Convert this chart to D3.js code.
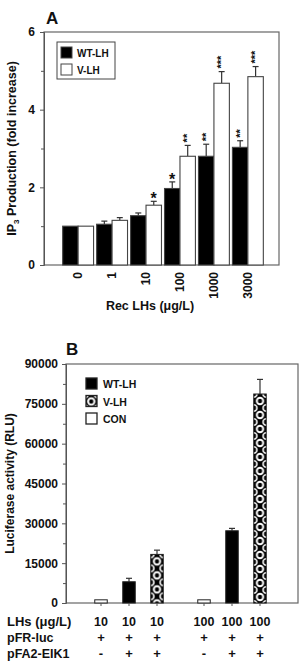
<!DOCTYPE html>
<html><head><meta charset="utf-8">
<script src="https://cdn.jsdelivr.net/npm/d3@7"></script>
<style>
html,body{margin:0;padding:0;background:#fff;}
text{font-family:"Liberation Sans",Arial,sans-serif;font-weight:bold;fill:#111;}
</style></head>
<body>
<svg id="c" width="302" height="663"></svg>
<script>
// ---------- Panel A data ----------
const doses = ["0","1","10","100","1000","3000"];
const seriesA = ["WT-LH","V-LH"];
const wtA = [1.0, 1.05, 1.27, 1.97, 2.8, 3.03];
const vA  = [1.0, 1.15, 1.54, 2.8, 4.68, 4.85];
const wtAErr = [0, 0.08, 0.07, 0.17, 0.31, 0.17];
const vAErr  = [0, 0.07, 0.1, 0.28, 0.3, 0.26];
const wtASig = ["", "", "", "*", "**", "**"];
const vASig  = ["", "", "*", "**", "***", "***"];
const yTicksA = [0, 2, 4, 6];
const yMinorA = [1, 3, 5];

// ---------- Panel B data ----------
const groupsB = ["10","100"];
const seriesB = ["CON","WT-LH","V-LH"];
const legendB = ["WT-LH","V-LH","CON"];
const valsB = { "10": [1200, 8000, 18300], "100": [1200, 27200, 78700] };
const errsB = { "10": [0, 1300, 1600], "100": [0, 900, 5500] };
const yTicksB = [0, 15000, 30000, 45000, 60000, 75000, 90000];
const yMinorB = [7500, 22500, 37500, 52500, 67500, 82500];
const rowLabels = ["LHs (\u03bcg/L)", "pFR-luc", "pFA2-EIK1", "pFC2-dbd"];
const rowValues = [
  ["10","10","10","100","100","100"],
  ["+","+","+","+","+","+"],
  ["-","+","+","-","+","+"],
  ["+","-","-","+","-","-"]
];

const svg = d3.select("#c");
const axisCol = "#555";
const defs = svg.append("defs");

// ================= Panel A =================
const A = {l:44, r:279, t:32, b:265};
const yA = d3.scaleLinear().domain([0,6]).range([A.b, A.t]);
const xA = d3.scaleBand().domain(doses).range([44, 282]).paddingInner(0.09).paddingOuter(0.55);
const xAi = d3.scaleBand().domain(seriesA).range([0, xA.bandwidth()]);

svg.append("text").attr("x", 46).attr("y", 24).attr("font-size", 17).text("A");

svg.append("rect").attr("x", A.l).attr("y", A.t).attr("width", A.r - A.l).attr("height", A.b - A.t)
  .attr("fill", "none").attr("stroke", "#666").attr("stroke-width", 1.2);

const gyA = svg.append("g").attr("transform", `translate(${A.l},0)`)
  .call(d3.axisLeft(yA).tickValues(yTicksA).tickSize(4).tickPadding(5).tickFormat(d3.format("d")));
gyA.selectAll("text").attr("font-size", 12).style("font-family", "Liberation Sans, Arial").style("font-weight", "bold").attr("fill", "#111");
gyA.select(".domain").attr("stroke", axisCol);
gyA.selectAll(".tick line").attr("stroke", axisCol);
svg.append("g").attr("transform", `translate(${A.l},0)`)
  .call(d3.axisLeft(yA).tickValues(yMinorA).tickSize(3).tickFormat(""))
  .call(g => { g.select(".domain").remove(); g.selectAll("line").attr("stroke", axisCol); });

doses.forEach((d, i) => {
  const g = svg.append("g").attr("transform", `translate(${xA(d)},0)`);
  [[wtA, wtAErr, wtASig, "WT-LH", "#000"], [vA, vAErr, vASig, "V-LH", "#fff"]].forEach(([vals, errs, sig, s, fill]) => {
    const x0 = xAi(s), w = xAi.bandwidth(), cx = x0 + w / 2;
    const top = yA(vals[i] + errs[i]);
    if (errs[i] > 0) {
      g.append("line").attr("x1", cx).attr("x2", cx).attr("y1", yA(vals[i])).attr("y2", top).attr("stroke", "#333").attr("stroke-width", 1.2);
      g.append("line").attr("x1", cx - 3).attr("x2", cx + 3).attr("y1", top).attr("y2", top).attr("stroke", "#333").attr("stroke-width", 1.2);
    }
    g.append("rect").attr("x", x0).attr("y", yA(vals[i])).attr("width", w).attr("height", yA(0) - yA(vals[i]))
      .attr("fill", fill).attr("stroke", "#444").attr("stroke-width", 1.1);
    if (sig[i].length === 1) {
      g.append("text").attr("x", cx).attr("y", top + 3).attr("text-anchor", "middle").attr("font-size", 16).text(sig[i]);
    } else if (sig[i].length > 1) {
      g.append("text").attr("transform", `translate(${cx + 3.5},${top - 3}) rotate(-90)`).attr("font-size", 11).text(sig[i]);
    }
  });
});

doses.forEach(d => {
  svg.append("text").attr("transform", `translate(${xA(d) + xA.bandwidth() / 2 + 4},${A.b + 7}) rotate(-90)`)
    .attr("text-anchor", "end").attr("font-size", 12).text(d);
});
svg.append("text").attr("x", 150).attr("y", 310).attr("text-anchor", "middle").attr("font-size", 12.5).text("Rec LHs (\u03bcg/L)");

const ylA = svg.append("text").attr("transform", `translate(16,${(A.t + A.b) / 2}) rotate(-90)`)
  .attr("text-anchor", "middle").attr("font-size", 12.5);
ylA.append("tspan").text("IP");
ylA.append("tspan").attr("font-size", 8).attr("dy", 3).text("3");
ylA.append("tspan").attr("dy", -3).text(" Production (fold increase)");

svg.append("rect").attr("x", 57).attr("y", 42).attr("width", 58).attr("height", 37).attr("fill", "#fff").attr("stroke", "#444").attr("stroke-width", 1);
seriesA.forEach((s, i) => {
  svg.append("rect").attr("x", 61).attr("y", 47 + i * 17).attr("width", 11).attr("height", 11)
    .attr("fill", i === 0 ? "#000" : "#fff").attr("stroke", "#444");
  svg.append("text").attr("x", 77).attr("y", 57 + i * 17).attr("font-size", 10).text(s);
});

// ================= Panel B =================
const B = {l:66, r:298, t:364, b:603};
const yB = d3.scaleLinear().domain([0, 90000]).range([B.b, B.t]);
const xB = d3.scalePoint().domain(groupsB).range([129, 232]);
const xBi = d3.scalePoint().domain(seriesB).range([-28, 28]);
const bw = 12.5;

svg.append("text").attr("x", 66).attr("y", 355).attr("font-size", 17).text("B");

svg.append("rect").attr("x", B.l).attr("y", B.t).attr("width", B.r - B.l).attr("height", B.b - B.t)
  .attr("fill", "none").attr("stroke", "#666").attr("stroke-width", 1.2);
const gyB = svg.append("g").attr("transform", `translate(${B.l},0)`)
  .call(d3.axisLeft(yB).tickValues(yTicksB).tickSize(4).tickPadding(4).tickFormat(d3.format("d")));
gyB.selectAll("text").attr("font-size", 12).style("font-family", "Liberation Sans, Arial").style("font-weight", "bold").attr("fill", "#111");
gyB.select(".domain").attr("stroke", axisCol);
gyB.selectAll(".tick line").attr("stroke", axisCol);
svg.append("g").attr("transform", `translate(${B.l},0)`)
  .call(d3.axisLeft(yB).tickValues(yMinorB).tickSize(3).tickFormat(""))
  .call(g => { g.select(".domain").remove(); g.selectAll("line").attr("stroke", axisCol); });

function makePattern(id, x, y) {
  const p = defs.append("pattern").attr("id", id).attr("patternUnits", "userSpaceOnUse")
    .attr("x", x).attr("y", y).attr("width", bw).attr("height", 14);
  p.append("rect").attr("width", bw).attr("height", 14).attr("fill", "#000");
  p.append("circle").attr("cx", bw / 2).attr("cy", 7).attr("r", 3.2).attr("fill", "none").attr("stroke", "#fff").attr("stroke-width", 2);
  [[0, 0], [0, 14], [bw, 0], [bw, 14]].forEach(([cx, cy]) =>
    p.append("circle").attr("cx", cx).attr("cy", cy).attr("r", 3.2).attr("fill", "none").attr("stroke", "#fff").attr("stroke-width", 1.6));
}

const colXs = [];
groupsB.forEach(gk => {
  seriesB.forEach((s, j) => {
    const cx = xB(gk) + xBi(s);
    colXs.push(cx);
    const v = valsB[gk][j], e = errsB[gk][j];
    let fill = s === "CON" ? "#fff" : s === "WT-LH" ? "#000" : null;
    if (s === "V-LH") { const id = "pat" + gk; makePattern(id, cx - bw / 2, yB(v)); fill = `url(#${id})`; }
    if (e > 0) {
      svg.append("line").attr("x1", cx).attr("x2", cx).attr("y1", yB(v)).attr("y2", yB(v + e)).attr("stroke", "#333").attr("stroke-width", 1.2);
      svg.append("line").attr("x1", cx - 3).attr("x2", cx + 3).attr("y1", yB(v + e)).attr("y2", yB(v + e)).attr("stroke", "#333").attr("stroke-width", 1.2);
    }
    svg.append("rect").attr("x", cx - bw / 2).attr("y", yB(v)).attr("width", bw).attr("height", yB(0) - yB(v))
      .attr("fill", fill).attr("stroke", "#222").attr("stroke-width", 1);
    svg.append("line").attr("x1", cx).attr("x2", cx).attr("y1", B.b).attr("y2", B.b + 3).attr("stroke", axisCol);
  });
});

legendB.forEach((s, i) => {
  const y0 = 378 + i * 17.5;
  let fill = s === "CON" ? "#fff" : "#000";
  if (s === "V-LH") { makePattern("patleg", 85, y0 - 1); fill = "url(#patleg)"; }
  svg.append("rect").attr("x", 86).attr("y", y0).attr("width", 11).attr("height", 11)
    .attr("fill", fill).attr("stroke", "#222").attr("stroke-width", 1.3);
  svg.append("text").attr("x", 103).attr("y", y0 + 10).attr("font-size", 10.5).text(s);
});

svg.append("text").attr("transform", `translate(14,${(B.t + B.b) / 2}) rotate(-90)`)
  .attr("text-anchor", "middle").attr("font-size", 12).text("Luciferase activity (RLU)");

rowLabels.forEach((lab, r) => {
  const yy = 626 + r * 16;
  svg.append("text").attr("x", 7).attr("y", yy).attr("font-size", r === 0 ? 13 : 12.5).text(lab);
  rowValues[r].forEach((v, k) => {
    svg.append("text").attr("x", colXs[k]).attr("y", yy).attr("text-anchor", "middle").attr("font-size", r === 0 ? 12.5 : 13).text(v);
  });
});
</script>
</body></html>
